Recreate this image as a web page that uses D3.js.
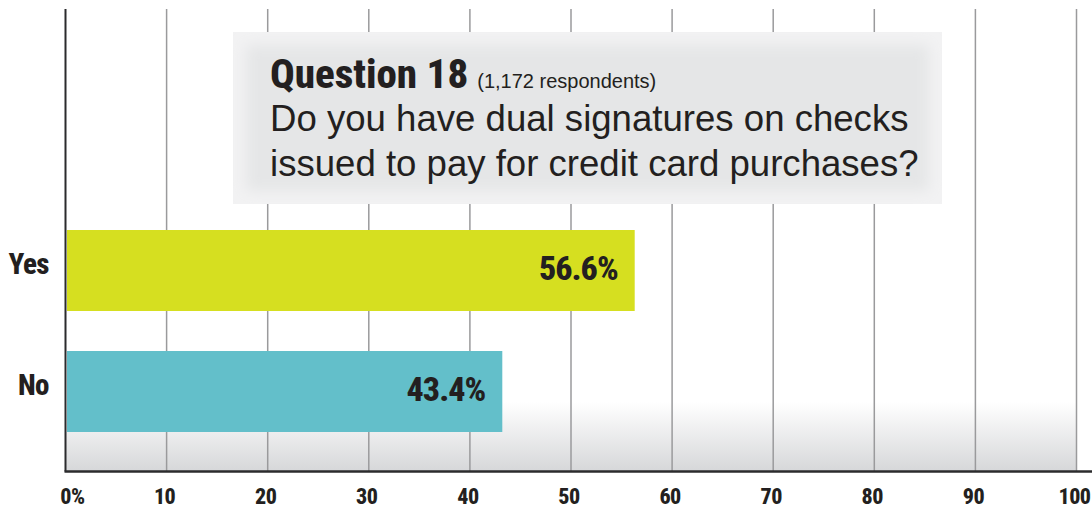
<!DOCTYPE html>
<html><head><meta charset="utf-8">
<script src="https://cdn.jsdelivr.net/npm/d3@7"></script>
<style>
html,body{margin:0;padding:0;background:#fff;}
svg{display:block;}
.cond{font-family:"Liberation Sans Narrow","Roboto Condensed","DejaVu Sans Condensed",sans-serif;font-stretch:condensed;}
</style></head>
<body>
<svg id="chart" width="1092" height="508"></svg>
<script>
const categories = ["Yes", "No"];
const values = [56.6, 43.4];
const valueLabels = ["56.6%", "43.4%"];
const colors = ["#d6df20", "#63bfca"];
const tickValues = [0, 10, 20, 30, 40, 50, 60, 70, 80, 90, 100];
const tickLabels = ["0%", "10", "20", "30", "40", "50", "60", "70", "80", "90", "100"];
const titleBold = "Question 18";
const titleNote = "(1,172 respondents)";
const questionLines = ["Do you have dual signatures on checks", "issued to pay for credit card purchases?"];

(function () {
const svg = d3.select("#chart");
const W = 1092, H = 508;
const plotTop = 9, plotBottom = 471.5;

const x = d3.scaleLinear().domain([0, 100]).range([65.5, 1076.5]);
const xb = d3.scaleLinear().domain([0, 100]).range([67, 1070]);
const y = d3.scaleBand().domain(categories).range([210, 452]).paddingInner(0.3306).paddingOuter(0.1653);

const defs = svg.append("defs");
const grad = defs.append("linearGradient").attr("id", "bg").attr("x1", 0).attr("y1", 0).attr("x2", 0).attr("y2", 1);
grad.append("stop").attr("offset", "0%").attr("stop-color", "#ffffff");
grad.append("stop").attr("offset", "85%").attr("stop-color", "#ffffff");
grad.append("stop").attr("offset", "100%").attr("stop-color", "#d6d7d9");
const blur = defs.append("filter").attr("id", "soft").attr("x", "-10%").attr("y", "-20%").attr("width", "120%").attr("height", "140%");
blur.append("feGaussianBlur").attr("stdDeviation", 7);
defs.append("clipPath").attr("id", "boxclip").append("rect")
  .attr("x", 233).attr("y", 32).attr("width", 709).attr("height", 172);

// background gradient
svg.append("rect").attr("x", x(0)).attr("y", plotTop).attr("width", x(100) - x(0)).attr("height", plotBottom - plotTop)
  .attr("fill", "url(#bg)");

// gridlines
svg.append("g").selectAll("line").data(tickValues.slice(1)).join("line")
  .attr("x1", d => x(d)).attr("x2", d => x(d))
  .attr("y1", plotTop).attr("y2", plotBottom)
  .attr("stroke", "#9a9a9c").attr("stroke-width", 1.5);

// title box
const box = svg.append("g");
box.append("rect").attr("x", 233).attr("y", 32).attr("width", 709).attr("height", 172).attr("fill", "#f2f2f3");
box.append("g").attr("clip-path", "url(#boxclip)").append("rect")
  .attr("x", 246).attr("y", 45).attr("width", 683).attr("height", 146)
  .attr("fill", "#e5e6e7").attr("filter", "url(#soft)");

const t1 = box.append("text").attr("x", 270).attr("y", 88).attr("fill", "#231f20");
t1.append("tspan").attr("class", "cond").attr("font-weight", 800).attr("font-size", 41).text(titleBold);
t1.append("tspan").attr("font-family", "Liberation Sans, Arial, sans-serif").attr("font-size", 20).attr("dx", 9).text(titleNote);
box.selectAll("text.q").data(questionLines).join("text").attr("class", "q")
  .attr("x", 270).attr("y", (d, i) => 131 + i * 45)
  .attr("font-family", "Liberation Sans, Arial, sans-serif").attr("font-size", 36.6)
  .attr("fill", "#231f20").text(d => d);

// bars
const data = categories.map((c, i) => ({c, v: values[i], label: valueLabels[i], color: colors[i]}));
svg.append("g").selectAll("rect").data(data).join("rect")
  .attr("x", xb(0)).attr("y", d => y(d.c))
  .attr("width", d => xb(d.v) - xb(0)).attr("height", y.bandwidth())
  .attr("fill", d => d.color);

svg.append("g").selectAll("text").data(data).join("text").attr("class", "cond")
  .attr("x", d => xb(d.v) - 17).attr("y", d => y(d.c) + y.bandwidth() / 2 + 9.5)
  .attr("text-anchor", "end").attr("font-weight", 800).attr("font-size", 34).attr("letter-spacing", -1)
  .attr("fill", "#231f20").text(d => d.label);

// axes lines
svg.append("line").attr("x1", x(0)).attr("x2", x(0)).attr("y1", plotTop).attr("y2", plotBottom)
  .attr("stroke", "#2b2b2d").attr("stroke-width", 2);
svg.append("line").attr("x1", x(0) - 1).attr("x2", W).attr("y1", plotBottom).attr("y2", plotBottom)
  .attr("stroke", "#2b2b2d").attr("stroke-width", 2.5);

// category labels
svg.append("g").selectAll("text").data(categories).join("text").attr("class", "cond")
  .attr("x", 49).attr("y", d => y(d) + y.bandwidth() / 2 + 3)
  .attr("text-anchor", "end").attr("font-weight", 800).attr("font-size", 29).attr("letter-spacing", -0.5)
  .attr("fill", "#231f20").text(d => d);

// tick labels
svg.append("g").selectAll("text").data(tickValues).join("text").attr("class", "cond")
  .attr("x", (d, i) => i === 0 ? x(d) + 7 : x(d) - 2).attr("y", 504)
  .attr("text-anchor", "middle").attr("font-weight", 800).attr("font-size", 22).attr("letter-spacing", -0.5)
  .attr("fill", "#231f20").text((d, i) => tickLabels[i]);
})();
</script>
</body></html>
